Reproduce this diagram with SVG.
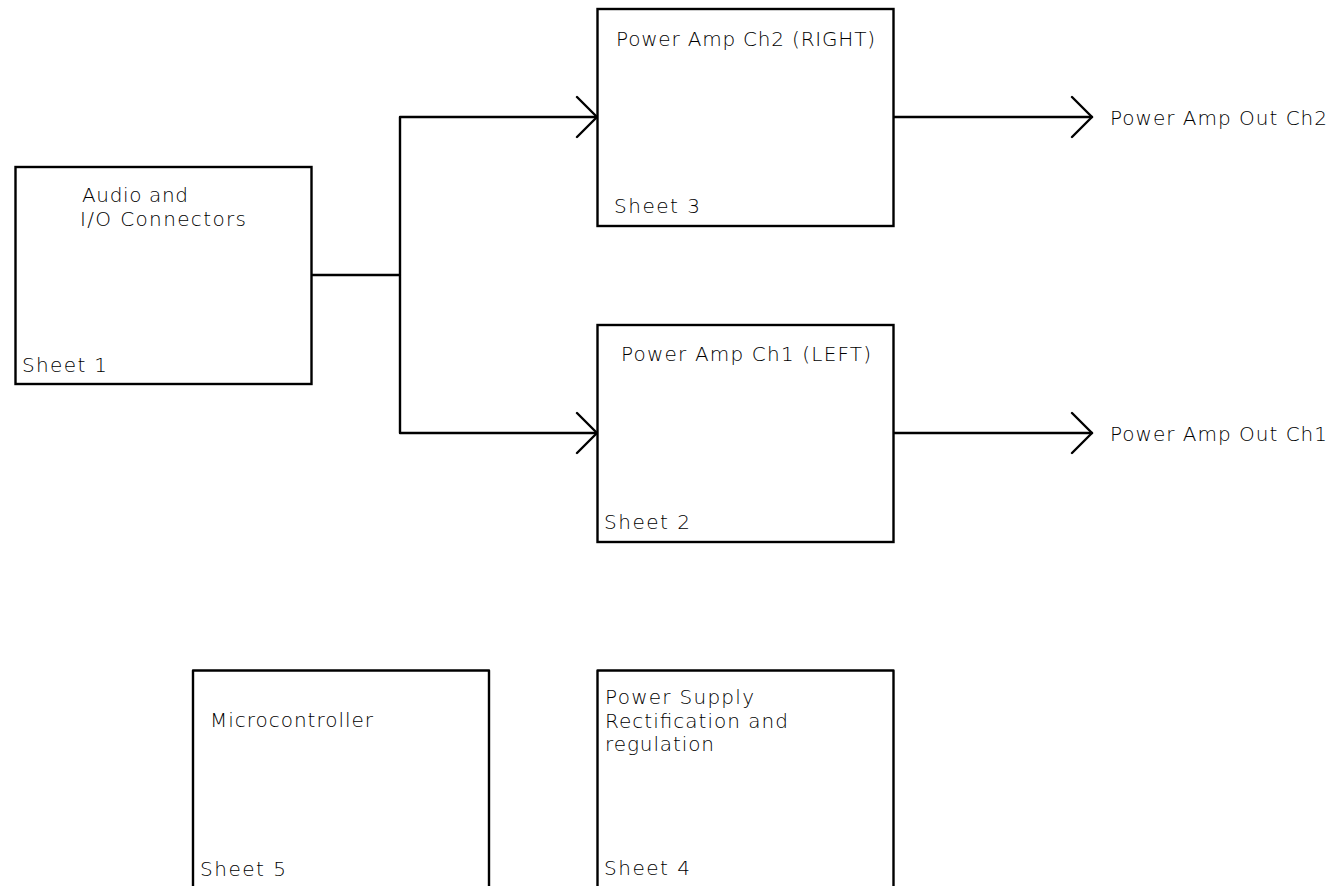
<svg xmlns="http://www.w3.org/2000/svg" width="1334" height="886" viewBox="0 0 1334 886">
<style>
rect{fill:#fff;stroke:#000;stroke-width:2.400}
path{fill:none;stroke:#000;stroke-width:2.400;stroke-linecap:round;stroke-linejoin:round}
text{font-family:"DejaVu Sans","Liberation Sans",sans-serif;font-weight:200;font-size:20px;fill:#000}
</style>
<g id="connectors">
<path d="M312 275H400M400 117V433M400 117H597M400 433H597"/>
<path d="M577 97L597 117L577 137M577 413L597 433L577 453"/>
<path d="M894 117H1092M894 433H1092"/>
<path d="M1072 97L1092 117L1072 137M1072 413L1092 433L1072 453"/>
</g>
<g id="audio"><rect x="15.500" y="167" width="296" height="217"/>
<text x="82" y="202" textLength="106">Audio and</text>
<text x="80" y="225.500" textLength="166">I/O Connectors</text>
<text x="22" y="372" textLength="85">Sheet 1</text></g>
<g id="amp2"><rect x="597.500" y="9" width="296" height="217"/>
<text x="616" y="46" textLength="259">Power Amp Ch2 (RIGHT)</text>
<text x="614" y="213" textLength="86">Sheet 3</text></g>
<g id="amp1"><rect x="597.500" y="325" width="296" height="217"/>
<text x="621" y="361" textLength="250">Power Amp Ch1 (LEFT)</text>
<text x="604" y="529" textLength="86">Sheet 2</text></g>
<g id="out2"><text x="1110" y="125" textLength="217">Power Amp Out Ch2</text></g>
<g id="out1"><text x="1110" y="441" textLength="217">Power Amp Out Ch1</text></g>
<g id="micro"><path d="M193 887V670.500H489V887"/>
<text x="210" y="727" textLength="163">Microcontroller</text>
<text x="200" y="876" textLength="86">Sheet 5</text></g>
<g id="psu"><path d="M597.500 887V670.500H893.500V887"/>
<text x="605" y="704" textLength="149">Power Supply</text>
<text x="605" y="727.500" textLength="183">Rectification and</text>
<text x="605" y="751" textLength="109">regulation</text>
<text x="604" y="875" textLength="86">Sheet 4</text></g>
</svg>
